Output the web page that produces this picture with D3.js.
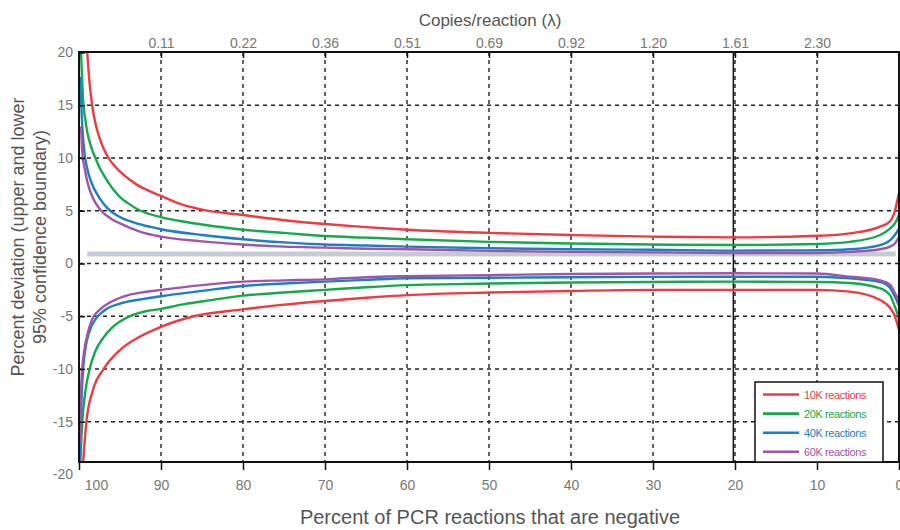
<!DOCTYPE html>
<html>
<head>
<meta charset="utf-8">
<script src="https://cdn.jsdelivr.net/npm/d3@7"></script>
<style>
  body { margin: 0; background: #fff; }
  svg { display: block; font-family: "Liberation Sans", "DejaVu Sans", sans-serif; }
</style>
</head>
<body>
<div id="chart"></div>
<script>
// x values = percent of reactions that are negative, y = percent deviation
const pctTicks = [100, 90, 80, 70, 60, 50, 40, 30, 20, 10, 0];
const lambdaTicks = [90, 80, 70, 60, 50, 40, 30, 20, 10];
const lambdaLabels = ["0.11", "0.22", "0.36", "0.51", "0.69", "0.92", "1.20", "1.61", "2.30"];
const devTicks = [20, 15, 10, 5, 0, -5, -10, -15, -20];
const markerPct = 20.2;   // solid line near lambda 1.6
const bandLevel = 0.9;    // light grey band just above zero

const seriesNames = ["10K reactions", "20K reactions", "40K reactions", "60K reactions"];
const seriesColors = ["#ef3b40", "#16a84c", "#1b7fc4", "#a155a6"];

const upper10k = [[99.0,20],[98.7,17],[98.4,15],[98,13.3],[97.5,11.9],[97,10.9],[96.4,10],[95.5,9.1],[94.4,8.3],[93,7.5],[91.5,6.9],[90,6.4],[87.5,5.6],[85,5.1],[80,4.6],[75,4.1],[70,3.74],[65,3.45],[60,3.2],[50,2.9],[40,2.7],[30,2.55],[20,2.48],[10,2.63],[6,2.86],[2.3,3.5],[1.1,4.0],[0.5,5.0],[0,6.7]];
const upper20k = [[99.75,20],[99.5,15.5],[99.2,13.5],[99,12.5],[98.5,11],[98,10],[97.5,9.1],[97,8.4],[96,7.2],[95,6.3],[94,5.7],[92.5,5.0],[90,4.4],[87.5,4.0],[85,3.7],[80,3.2],[75,2.9],[70,2.6],[65,2.45],[60,2.3],[50,2.05],[40,1.9],[30,1.8],[20,1.75],[10,1.85],[6,2.05],[2.3,2.7],[1.1,3.3],[0.5,3.8],[0,4.6]];
const upper40k = [[99.85,17.7],[99.6,13],[99.3,10.3],[99,9],[98.5,7.7],[97.5,6.2],[96.6,5.3],[95,4.4],[92.5,3.7],[90,3.25],[85,2.7],[80,2.3],[75,2.0],[70,1.8],[65,1.7],[60,1.6],[50,1.45],[40,1.35],[30,1.3],[20,1.22],[10,1.25],[6,1.35],[2.3,1.75],[1.1,2.2],[0.5,2.7],[0,3.3]];
const upper60k = [[99.75,13],[99.6,10.5],[99.3,9],[99,7.8],[98.3,6.2],[97.4,5.1],[96,4.2],[95,3.8],[92.5,3.0],[90,2.55],[85,2.1],[80,1.8],[75,1.6],[70,1.5],[65,1.4],[60,1.35],[50,1.2],[40,1.1],[30,1.05],[20,1.0],[10,1.0],[6,1.1],[2.3,1.35],[1.1,1.6],[0.5,1.9],[0,2.5]];

const lower10k = [[99.6,-20],[99.1,-15],[98.3,-12],[97,-10],[95,-8.2],[92.5,-6.9],[90,-6.0],[86,-5.0],[80,-4.35],[75,-3.9],[70,-3.55],[65,-3.25],[60,-3.0],[50,-2.75],[40,-2.6],[30,-2.5],[20,-2.5],[10,-2.5],[6,-2.67],[2.3,-3.46],[1.1,-4.2],[0.5,-5.0],[0,-6.3]];
const lower20k = [[99.85,-19],[99.6,-15],[99.2,-12],[98.7,-10],[98,-8.3],[97,-7.0],[96,-6.1],[95,-5.5],[93.5,-4.9],[92,-4.55],[90,-4.3],[87.5,-3.9],[85,-3.6],[80,-3.05],[75,-2.75],[70,-2.5],[65,-2.25],[60,-2.05],[50,-1.9],[40,-1.8],[30,-1.75],[20,-1.72],[10,-1.75],[6,-1.85],[2.3,-2.35],[1.1,-3.0],[0.5,-4.1],[0,-5.2]];
const lower40k = [[99.9,-19],[99.7,-13],[99.5,-10],[99.2,-8],[98.8,-6.6],[98,-5.3],[97,-4.5],[95,-3.8],[92.5,-3.4],[90,-3.1],[85,-2.6],[80,-2.13],[75,-1.9],[70,-1.72],[65,-1.55],[60,-1.4],[50,-1.35],[40,-1.3],[30,-1.27],[20,-1.25],[10,-1.25],[6,-1.4],[2.3,-1.75],[1.1,-2.3],[0.5,-3.15],[0,-4.0]];
const lower60k = [[99.85,-17],[99.7,-11],[99.4,-8.5],[99,-6.8],[98.4,-5.3],[97.5,-4.4],[96,-3.6],[94,-3.0],[92,-2.7],[90,-2.5],[85,-2.05],[80,-1.72],[75,-1.6],[70,-1.5],[65,-1.3],[60,-1.2],[50,-1.1],[40,-1.0],[30,-0.95],[20,-0.93],[10,-0.95],[6,-1.25],[2.3,-1.6],[1.1,-2.0],[0.5,-2.8],[0,-3.5]];

const upperSeries = [upper10k, upper20k, upper40k, upper60k];
const lowerSeries = [lower10k, lower20k, lower40k, lower60k];

const width = 900, height = 530;
const plot = { left: 79, right: 899, top: 52, bottom: 462 };

const svg = d3.select("#chart").append("svg")
    .attr("width", width)
    .attr("height", height);

const x = d3.scaleLinear().domain([100, 0]).range([plot.left, plot.right]);
const y = d3.scaleLinear().domain([20, -20]).range([52.5, 474.5]);

svg.append("defs").append("clipPath")
    .attr("id", "plot-clip")
    .append("rect")
    .attr("x", plot.left)
    .attr("y", plot.top)
    .attr("width", plot.right - plot.left)
    .attr("height", plot.bottom - plot.top);

// dashed grid
const grid = svg.append("g").attr("stroke", "#222").attr("stroke-width", 1.4).attr("stroke-dasharray", "4,4");
grid.selectAll(".vgrid")
    .data(lambdaTicks)
    .enter().append("line")
    .attr("x1", d => x(d)).attr("x2", d => x(d))
    .attr("y1", plot.top).attr("y2", plot.bottom);
grid.selectAll(".hgrid")
    .data(devTicks.filter(d => d < 20 && d > -20))
    .enter().append("line")
    .attr("x1", plot.left).attr("x2", plot.right)
    .attr("y1", d => y(d)).attr("y2", d => y(d));

// grey band
svg.append("rect")
    .attr("x", x(99))
    .attr("y", y(bandLevel) - 2.5)
    .attr("width", x(0.4) - x(99))
    .attr("height", 5)
    .attr("fill", "#c3ccd6");

// solid marker line
svg.append("line")
    .attr("x1", x(markerPct)).attr("x2", x(markerPct))
    .attr("y1", plot.top).attr("y2", plot.bottom)
    .attr("stroke", "#111").attr("stroke-width", 1.5);

// curves
const line = d3.line()
    .x(d => x(d[0]))
    .y(d => y(d[1]))
    .curve(d3.curveMonotoneX);

const curves = svg.append("g").attr("clip-path", "url(#plot-clip)");
[upperSeries, lowerSeries].forEach(group => {
    group.forEach((data, i) => {
        curves.append("path")
            .datum(data.slice().sort((a, b) => b[0] - a[0]))
            .attr("d", line)
            .attr("fill", "none")
            .attr("stroke", seriesColors[i])
            .attr("stroke-width", 2.4);
    });
});

// axes
const gray = "#777";
const bottomAxis = svg.append("g")
    .attr("transform", `translate(0,${plot.bottom})`)
    .call(d3.axisBottom(x).tickValues(pctTicks).tickSize(8).tickPadding(10).tickFormat(d => String(d)));
bottomAxis.select(".domain").remove();
bottomAxis.selectAll(".tick line").attr("stroke", "#111").attr("stroke-width", 1.5);
bottomAxis.selectAll(".tick text")
    .attr("fill", gray).attr("font-size", 14)
    .attr("dx", d => d === 100 ? 17 : 0);

const topAxis = svg.append("g")
    .attr("transform", `translate(0,${plot.top})`)
    .call(d3.axisTop(x).tickValues(lambdaTicks).tickSize(-6).tickPadding(4)
        .tickFormat((d, i) => lambdaLabels[i]));
topAxis.select(".domain").remove();
topAxis.selectAll(".tick line").attr("stroke", "#111").attr("stroke-width", 1.5);
topAxis.selectAll(".tick text").attr("fill", gray).attr("font-size", 14);

const leftAxis = svg.append("g")
    .attr("transform", `translate(${plot.left},0)`)
    .call(d3.axisLeft(y).tickValues(devTicks).tickSize(-6).tickPadding(6).tickFormat(d => String(d)));
leftAxis.select(".domain").remove();
leftAxis.selectAll(".tick line").attr("stroke", "#111").attr("stroke-width", 1.5)
    .attr("display", d => d === -20 ? "none" : null);
leftAxis.selectAll(".tick text").attr("fill", gray).attr("font-size", 14);

// frame
svg.append("rect")
    .attr("x", plot.left).attr("y", plot.top)
    .attr("width", plot.right - plot.left)
    .attr("height", plot.bottom - plot.top)
    .attr("fill", "none").attr("stroke", "#111").attr("stroke-width", 2);

// legend
const legend = svg.append("g").attr("transform", "translate(755,382)");
legend.append("rect")
    .attr("width", 128).attr("height", plot.bottom - 382)
    .attr("fill", "#fff").attr("stroke", "#111").attr("stroke-width", 1.5);
seriesNames.forEach((name, i) => {
    const ly = 12.5 + i * 19.1;
    legend.append("line")
        .attr("x1", 8).attr("x2", 44)
        .attr("y1", ly).attr("y2", ly)
        .attr("stroke", seriesColors[i]).attr("stroke-width", 2.6);
    legend.append("text")
        .attr("x", 49).attr("y", ly + 4)
        .attr("font-size", 11)
        .attr("letter-spacing", -0.4)
        .attr("fill", seriesColors[i])
        .text(name);
});

// titles
svg.append("text")
    .attr("x", 490).attr("y", 26)
    .attr("text-anchor", "middle")
    .attr("font-size", 17)
    .attr("fill", "#555")
    .text("Copies/reaction (λ)");

svg.append("text")
    .attr("x", 490).attr("y", 524)
    .attr("text-anchor", "middle")
    .attr("font-size", 20)
    .attr("fill", "#555")
    .text("Percent of PCR reactions that are negative");

const yTitle = svg.append("text")
    .attr("transform", "translate(24,237) rotate(-90)")
    .attr("text-anchor", "middle")
    .attr("font-size", 18)
    .attr("fill", "#555");
yTitle.append("tspan").attr("x", 0).attr("dy", 0).text("Percent deviation (upper and lower");
yTitle.append("tspan").attr("x", 0).attr("dy", 22).text("95% confidence boundary)");
</script>
</body>
</html>
